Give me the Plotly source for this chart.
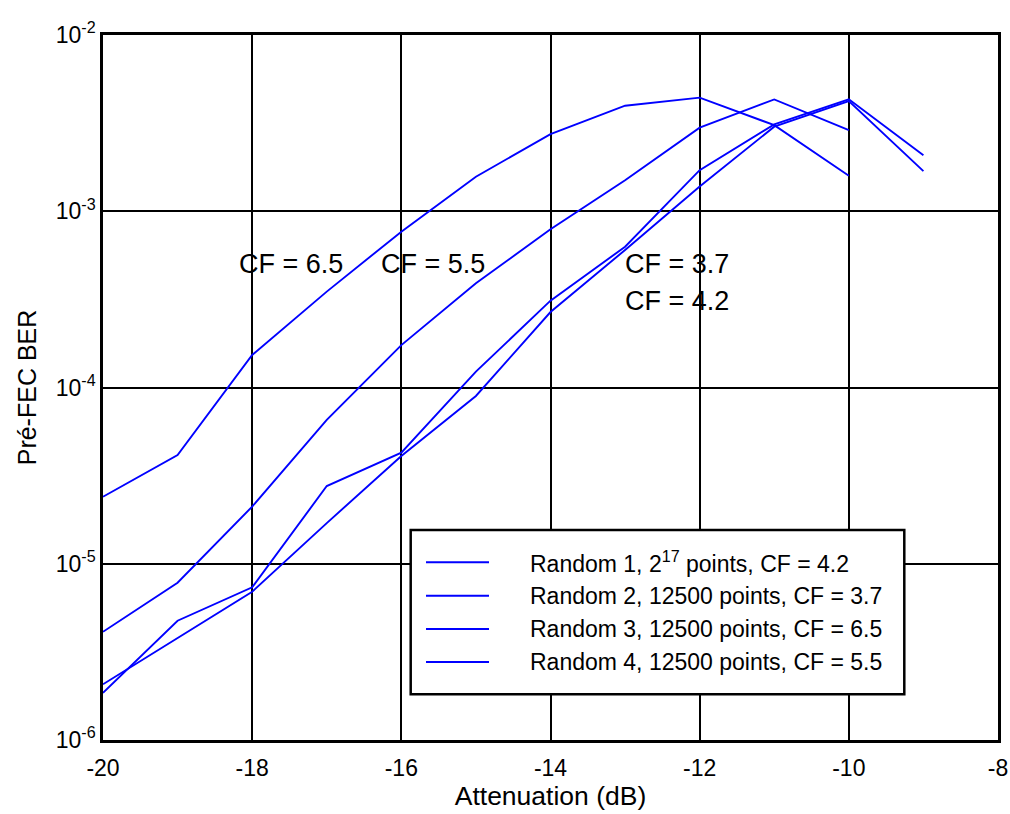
import math
import plotly.graph_objects as go

atten_short = [-20, -19, -18, -17, -16, -15, -14, -13, -12, -11, -10]
atten_long = [-20, -19, -18, -17, -16, -15, -14, -13, -12, -11, -10, -9]

ber_random1 = [2.07e-6, 3.78e-6, 6.94e-6, 1.70e-5, 4.09e-5, 8.95e-5, 2.68e-4,
               6.03e-4, 1.38e-3, 3.02e-3, 4.22e-3, 1.69e-3]
ber_random2 = [1.85e-6, 4.75e-6, 7.35e-6, 2.76e-5, 4.27e-5, 1.23e-4, 3.11e-4,
               6.29e-4, 1.71e-3, 3.11e-3, 4.32e-3, 2.08e-3]
ber_random3 = [2.40e-5, 4.14e-5, 1.53e-4, 3.50e-4, 7.66e-4, 1.57e-3, 2.74e-3,
               3.97e-3, 4.41e-3, 3.08e-3, 1.59e-3]
ber_random4 = [4.11e-6, 7.80e-6, 2.11e-5, 6.55e-5, 1.74e-4, 3.90e-4, 7.90e-4,
               1.50e-3, 2.98e-3, 4.31e-3, 2.89e-3]

names = ["Random 1, 2<sup>17</sup> points, CF = 4.2",
         "Random 2, 12500 points, CF = 3.7",
         "Random 3, 12500 points, CF = 6.5",
         "Random 4, 12500 points, CF = 5.5"]

x_ticks = [-20, -18, -16, -14, -12, -10, -8]
x_ticktext = ["-20", "-18", "-16", "-14", "-12", "-10", "-8"]
y_ticks = [1e-6, 1e-5, 1e-4, 1e-3, 1e-2]
y_ticktext = ["10<sup>-6</sup>", "10<sup>-5</sup>", "10<sup>-4</sup>",
              "10<sup>-3</sup>", "10<sup>-2</sup>"]

cf_labels = ["CF = 6.5", "CF = 5.5", "CF = 3.7", "CF = 4.2"]
cf_x = [-18.2, -16.3, -13.03, -13.03]
cf_y = [5.0e-4, 5.0e-4, 5.0e-4, 3.1e-4]

FONT = "Liberation Sans, Arial, sans-serif"
BLUE = "#0000FF"

fig = go.Figure()
series = [(atten_long, ber_random1), (atten_long, ber_random2),
          (atten_short, ber_random3), (atten_short, ber_random4)]
for (xs, ys), nm in zip(series, names):
    fig.add_trace(go.Scatter(x=xs, y=ys, mode="lines", name=nm, showlegend=False,
                             line=dict(color=BLUE, width=1.9)))

for txt, xv, yv in zip(cf_labels, cf_x, cf_y):
    fig.add_annotation(x=xv, y=math.log10(yv), xref="x", yref="y", text=txt,
                       showarrow=False, xanchor="left", yanchor="middle",
                       font=dict(family=FONT, size=27, color="black"))

# legend box (drawn to mimic the original legend layout)
leg_x0, leg_x1, leg_y0, leg_y1 = 0.3438, 0.8953, 0.0648, 0.2979
leg_line_x0, leg_line_x1, leg_text_x = 0.3609, 0.4313, 0.4749
leg_rows = [0.2521, 0.2047, 0.1574, 0.1106]
fig.add_shape(type="rect", xref="paper", yref="paper",
              x0=leg_x0, x1=leg_x1, y0=leg_y0, y1=leg_y1,
              line=dict(color="black", width=2.5), fillcolor="white", layer="above")
for nm, ry in zip(names, leg_rows):
    fig.add_shape(type="line", xref="paper", yref="paper",
                  x0=leg_line_x0, x1=leg_line_x1, y0=ry, y1=ry,
                  line=dict(color=BLUE, width=1.9), layer="above")
    fig.add_annotation(x=leg_text_x, y=ry, xref="paper", yref="paper", text=nm,
                       showarrow=False, xanchor="left", yanchor="middle",
                       font=dict(family=FONT, size=23, color="black"))

fig.update_layout(
    width=1010, height=814,
    margin=dict(l=103, r=12, t=35, b=74),
    paper_bgcolor="white", plot_bgcolor="white",
    font=dict(family=FONT, color="black"),
    showlegend=False,
)
fig.update_xaxes(range=[-20, -8], tickvals=x_ticks, ticktext=x_ticktext, ticks="",
                 showgrid=True, gridcolor="black", gridwidth=1.5,
                 showline=True, linecolor="black", linewidth=2.5, mirror=True,
                 zeroline=False, tickfont=dict(size=23), automargin=False,
                 ticklabelstandoff=6,
                 title=dict(text="Attenuation (dB)", font=dict(size=26.5), standoff=0))
fig.update_yaxes(type="log", range=[-6, -2], tickvals=y_ticks, ticktext=y_ticktext,
                 ticks="", showgrid=True, gridcolor="black", gridwidth=1.5,
                 showline=True, linecolor="black", linewidth=2.5, mirror=True,
                 zeroline=False, tickfont=dict(size=23), automargin=False,
                 title=dict(text="Pré-FEC BER", font=dict(size=25), standoff=12))

fig.write_html("out.html")
